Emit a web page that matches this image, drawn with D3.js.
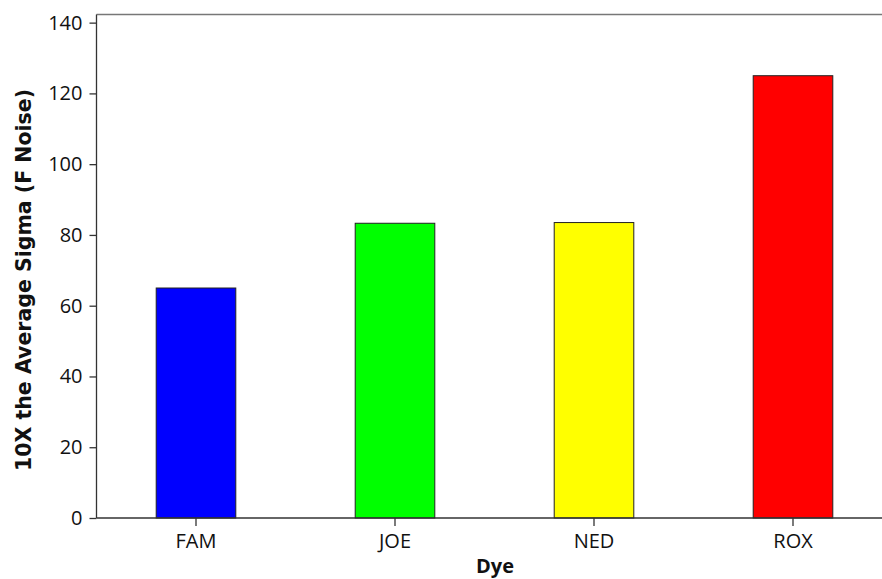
<!DOCTYPE html>
<html>
<head>
<meta charset="utf-8">
<script src="https://cdn.jsdelivr.net/npm/d3@7"></script>
<style>
  body { margin: 0; background: #fff; }
  svg text { font-family: "Open Sans", "DejaVu Sans", sans-serif; fill: #111; }
</style>
</head>
<body>
<div id="chart"></div>
<script>
// data
var dyes = ["FAM", "JOE", "NED", "ROX"];
var sigma = [65, 83.3, 83.5, 125];
var barColors = ["#0000ff", "#00ff00", "#ffff00", "#ff0000"];
var yTicks = [0, 20, 40, 60, 80, 100, 120, 140];

var width = 882, height = 579;
var margin = {top: 14.5, left: 96.5, bottom: 61};

var svg = d3.select("#chart")
  .append("svg")
    .attr("width", width)
    .attr("height", height);

var x = d3.scaleBand()
  .domain(dyes)
  .range([margin.left, 892.5])
  .paddingInner(0.6)
  .paddingOuter(0.3);

var y = d3.scaleLinear()
  .domain([0, 142.3])
  .range([height - margin.bottom, margin.top]);

// top frame line
svg.append("line")
  .attr("x1", margin.left).attr("x2", width)
  .attr("y1", margin.top).attr("y2", margin.top)
  .style("stroke", "#777")
  .style("stroke-width", 1.3);

// bars
svg.append("g")
  .selectAll("rect")
  .data(dyes)
  .enter()
  .append("rect")
    .attr("x", function(d) { return x(d); })
    .attr("y", function(d, i) { return y(sigma[i]); })
    .attr("width", x.bandwidth())
    .attr("height", function(d, i) { return y(0) - y(sigma[i]); })
    .style("fill", function(d, i) { return barColors[i]; })
    .style("stroke", "#222")
    .style("stroke-width", 1);

// y axis
var yAxis = svg.append("g")
  .attr("transform", "translate(" + margin.left + ",0)")
  .call(d3.axisLeft(y).tickValues(yTicks).tickSize(7).tickPadding(7).tickSizeOuter(0));
yAxis.select(".domain").attr("d", "M0," + y(0) + "V" + margin.top);

// x axis
var xAxis = svg.append("g")
  .attr("transform", "translate(0," + y(0) + ")")
  .call(d3.axisBottom(x).tickSize(8).tickPadding(8).tickSizeOuter(0));
xAxis.select(".domain").attr("d", "M" + margin.left + ",0H" + width);

svg.selectAll(".domain, .tick line")
  .style("stroke", "#333")
  .style("stroke-width", 1.3);
svg.selectAll(".tick text")
  .style("font-family", "'Open Sans', 'DejaVu Sans', sans-serif")
  .style("font-size", "20px")
  .style("fill", "#111");

// labels
svg.append("text")
  .text("Dye")
  .attr("text-anchor", "middle")
  .attr("x", 495)
  .attr("y", 573)
  .style("font-size", "20px")
  .style("font-weight", "bold");

svg.append("g")
  .attr("transform", "translate(30.5,280)")
  .append("text")
  .text("10X the Average Sigma (F Noise)")
  .attr("text-anchor", "middle")
  .attr("transform", "rotate(-90)")
  .style("font-family", "'DejaVu Sans', sans-serif")
  .style("font-size", "20.5px")
  .style("font-weight", "bold");
</script>
</body>
</html>
